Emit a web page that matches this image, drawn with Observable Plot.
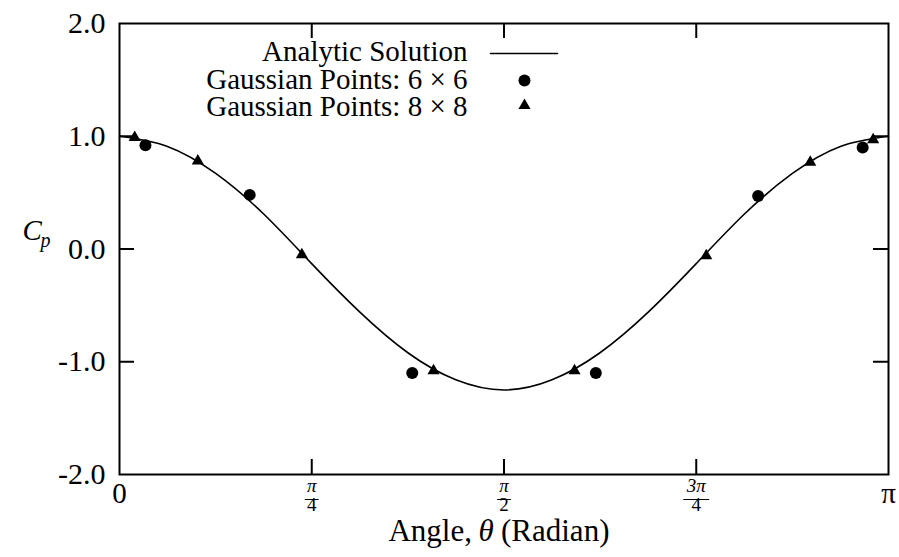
<!DOCTYPE html>
<html>
<head>
<meta charset="utf-8">
<script src="https://cdn.jsdelivr.net/npm/d3@7"></script>
<script src="https://cdn.jsdelivr.net/npm/@observablehq/plot@0.6"></script>
<style>
  body { margin: 0; background: #fff; }
  svg { display: block; }
</style>
</head>
<body>
<div id="chart"></div>
<script>
// Pressure coefficient Cp around the body versus angle θ (radians)
const analyticTheta = [0, 0.196, 0.393, 0.589, 0.785, 0.982, 1.178, 1.374, 1.571,
                       1.767, 1.963, 2.160, 2.356, 2.553, 2.749, 2.945, 3.142];
const analyticCp    = [1.00, 0.91, 0.67, 0.31, -0.13, -0.56, -0.92, -1.16, -1.25,
                       -1.16, -0.92, -0.56, -0.13, 0.31, 0.67, 0.91, 1.00];

// Numerical results at the Gauss quadrature angles
const gauss6Theta = [0.106, 0.532, 1.196, 1.946, 2.609, 3.036];
const gauss6Cp    = [0.92, 0.48, -1.10, -1.10, 0.47, 0.90];
const gauss8Theta = [0.062, 0.320, 0.745, 1.283, 1.859, 2.397, 2.822, 3.079];
const gauss8Cp    = [0.99, 0.78, -0.05, -1.08, -1.08, -0.06, 0.77, 0.97];

// Axis ticks
const yTicks = [-2, -1, 0, 1, 2];
const yInnerTicks = [-1, 0, 1];
const xTickValues = [0, Math.PI / 4, Math.PI / 2, 3 * Math.PI / 4, Math.PI];
const xTickFull = ["0", "", "", "", "π"];
const xTickNum  = ["", "π", "π", "3π", ""];
const xTickDen  = ["", "4", "2", "4", ""];

const legendLabels = ["Analytic Solution", "Gaussian Points: 6 × 6", "Gaussian Points: 8 × 8"];

const analytic = analyticTheta.map((t, i) => ({theta: t, cp: analyticCp[i]}));
const gauss6 = gauss6Theta.map((t, i) => ({theta: t, cp: gauss6Cp[i]}));
const gauss8 = gauss8Theta.map((t, i) => ({theta: t, cp: gauss8Cp[i]}));
const xTicks = xTickValues.map((v, i) => ({x: v, full: xTickFull[i], num: xTickNum[i], den: xTickDen[i]}));
const fracTicks = xTicks.filter(d => d.num);
const xInnerTicks = fracTicks.map(d => d.x);

const W = 899, H = 557;
const mL = 119, mR = 11, mT = 23, mB = 83;
const plotW = W - mL - mR, plotH = H - mT - mB;
const tickLen = 15;
const legendRowsDy = [28, 56, 83];

// a plain straight segment used for fraction bars and the legend line sample
const segment = {draw(context, l) { context.moveTo(0, 0); context.lineTo(0, -l); }};

const serif = "'Liberation Serif', 'DejaVu Serif', serif";

const chart = Plot.plot({
  width: W,
  height: H,
  marginLeft: mL,
  marginRight: mR,
  marginTop: mT,
  marginBottom: mB,
  style: {fontFamily: serif, fontSize: "30px", background: "#fff", color: "#000"},
  x: {domain: [0, Math.PI], axis: null},
  y: {domain: [-2, 2]},
  marks: [
    // y tick labels
    Plot.axisY(yTicks, {tickSize: 0, tickPadding: 14, tickFormat: d => d.toFixed(1), fontSize: 30, label: null}),
    // inward ticks on all four sides
    Plot.tickY(yInnerTicks, {y: d => d, insetRight: plotW - tickLen, strokeWidth: 2}),
    Plot.tickY(yInnerTicks, {y: d => d, insetLeft: plotW - tickLen, strokeWidth: 2}),
    Plot.tickX(xInnerTicks, {x: d => d, insetTop: plotH - tickLen, strokeWidth: 2}),
    Plot.tickX(xInnerTicks, {x: d => d, insetBottom: plotH - tickLen, strokeWidth: 2}),
    // x tick labels: plain ends and stacked fractions
    Plot.text(xTicks.filter(d => d.full), {x: "x", text: "full", frameAnchor: "bottom", dy: 28,
      fontSize: 29, fontStyle: d => d.full === "π" ? "italic" : "normal"}),
    Plot.text(fracTicks, {x: "x", text: "num", frameAnchor: "bottom", dy: 17, fontSize: 19, fontStyle: "italic"}),
    Plot.text(fracTicks, {x: "x", text: "den", frameAnchor: "bottom", dy: 36, fontSize: 19}),
    ...fracTicks.map(d => Plot.vector([d], {x: "x", frameAnchor: "bottom", dy: 25, rotate: 90,
      length: d.num.length > 1 ? 25 : 13, anchor: "middle", shape: segment, stroke: "#000", strokeWidth: 1.2})),
    // x axis title, with an italic θ
    Plot.text(["Angle,"], {frameAnchor: "bottom", dx: -32, dy: 66, fontSize: 31, textAnchor: "end"}),
    Plot.text(["θ"], {frameAnchor: "bottom", dx: -18, dy: 66, fontSize: 31, fontStyle: "italic"}),
    Plot.text(["(Radian)"], {frameAnchor: "bottom", dx: -3, dy: 66, fontSize: 31, textAnchor: "start"}),
    // y axis title Cp
    Plot.text(["C"], {frameAnchor: "left", dx: -97, dy: -18, fontSize: 29, fontStyle: "italic"}),
    Plot.text(["p"], {frameAnchor: "left", dx: -79, dy: -8, fontSize: 20, fontStyle: "italic"}),
    // data
    Plot.line(analytic, {x: "theta", y: "cp", curve: "natural", stroke: "#000", strokeWidth: 1.6}),
    Plot.dot(gauss6, {x: "theta", y: "cp", r: 6, fill: "#000", symbol: "circle"}),
    Plot.dot(gauss8, {x: "theta", y: "cp", r: 4.5, fill: "#000", symbol: "triangle"}),
    // legend
    ...legendLabels.map((label, i) => Plot.text([label], {frameAnchor: "top-left", dx: 348,
      dy: legendRowsDy[i], fontSize: 29, textAnchor: "end", lineAnchor: "middle"})),
    Plot.vector([0], {frameAnchor: "top-left", dx: 371, dy: 30, rotate: 90, length: 67,
      anchor: "start", shape: segment, stroke: "#000", strokeWidth: 1.6}),
    Plot.dot([0], {frameAnchor: "top-left", dx: 405, dy: 57, r: 6, fill: "#000", symbol: "circle"}),
    Plot.dot([0], {frameAnchor: "top-left", dx: 405, dy: 82, r: 4.5, fill: "#000", symbol: "triangle"}),
    Plot.frame({stroke: "#000", strokeWidth: 2})
  ]
});

document.getElementById("chart").appendChild(chart);
</script>
</body>
</html>
